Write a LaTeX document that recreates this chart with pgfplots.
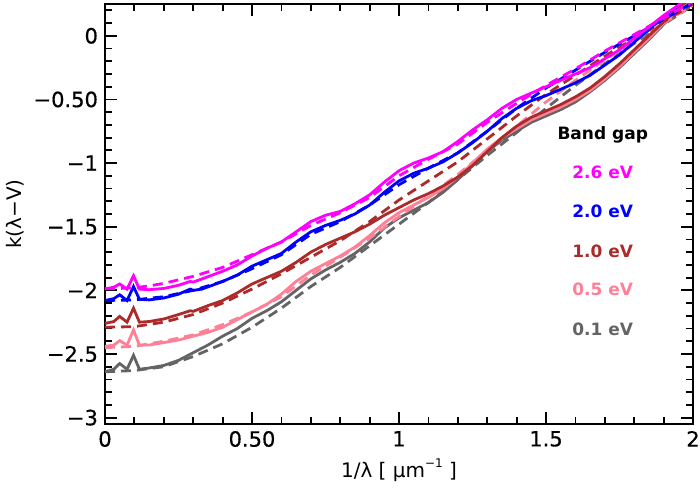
\documentclass[border=0pt]{standalone}
\usepackage{fontspec}
\setmainfont{DejaVu Sans}
\newfontfamily\thickfont{DejaVu Sans}[FakeBold=0.5]
\usepackage{pgfplots}
\pgfplotsset{compat=1.18}
\definecolor{cmag}{RGB}{255,0,255}
\definecolor{cblu}{RGB}{0,0,255}
\definecolor{cbrn}{RGB}{172,42,42}
\definecolor{cpnk}{RGB}{255,128,150}
\definecolor{cgry}{RGB}{100,100,100}
\begin{document}
\begin{tikzpicture}
\begin{axis}[
  name=ax,
  scale only axis, width=294pt, height=210pt,
  xmin=0, xmax=2, ymin=-3.05, ymax=0.25,
  axis line style={line width=1.1pt},
  tick align=inside,
  xtick={0,0.5,1,1.5,2}, xticklabels={0,0.50,1,1.5,2},
  ytick={0,-0.5,-1,-1.5,-2,-2.5,-3},
  yticklabels={0,−0.50,−1,−1.5,−2,−2.5,−3},
  minor xtick={0.1,0.2,0.3,0.4,0.6,0.7,0.8,0.9,1.1,1.2,1.3,1.4,1.6,1.7,1.8,1.9},
  minor ytick={0.2,0.1,-0.1,-0.2,-0.3,-0.4,-0.6,-0.7,-0.8,-0.9,-1.1,-1.2,-1.3,-1.4,-1.6,-1.7,-1.8,-1.9,-2.1,-2.2,-2.3,-2.4,-2.6,-2.7,-2.8,-2.9},
  major tick length=6pt, minor tick length=3.5pt,
  every tick/.style={black, line width=0.9pt},
  ticklabel style={font=\thickfont\fontsize{10.5}{12}\selectfont},
  xlabel={1/λ [ μm\raisebox{0.9ex}{\fontsize{6}{7}\selectfont −1} ]},
  ylabel={k(λ−V)},
  label style={font=\thickfont\fontsize{10.5}{12}\selectfont},
  every axis x label/.style={at={(axis description cs:0.5,-0.1095)}, anchor=center},
  every axis y label/.style={at={(axis description cs:-0.153,0.5)}, anchor=center, rotate=90},
  clip=true,
]
% gray
\addplot[cgry, line width=1.4pt] coordinates {(0,-2.64)(0.03,-2.62)(0.05,-2.575)(0.075,-2.62)(0.097,-2.51)(0.117,-2.62)(0.15,-2.61)(0.2,-2.59)(0.25,-2.55)(0.3,-2.49)(0.35,-2.43)(0.4,-2.36)(0.45,-2.30)(0.5,-2.22)(0.55,-2.16)(0.6,-2.09)(0.65,-2.00)(0.7,-1.91)(0.75,-1.84)(0.8,-1.78)(0.85,-1.71)(0.9,-1.62)(0.95,-1.51)(1.0,-1.43)(1.05,-1.37)(1.1,-1.31)(1.15,-1.23)(1.2,-1.13)(1.25,-1.02)(1.3,-0.91)(1.35,-0.82)(1.4,-0.75)(1.45,-0.68)(1.5,-0.63)(1.55,-0.58)(1.6,-0.52)(1.65,-0.44)(1.7,-0.35)(1.75,-0.25)(1.8,-0.14)(1.85,-0.03)(1.9,0.09)(1.95,0.20)(2.0,0.30)};
\addplot[cgry, line width=1.4pt, dash pattern=on 5pt off 3pt] coordinates {(0,-2.64)(0.1,-2.63)(0.2,-2.60)(0.3,-2.52)(0.4,-2.42)(0.5,-2.29)(0.6,-2.14)(0.7,-1.97)(0.8,-1.82)(0.9,-1.65)(1.0,-1.48)(1.1,-1.31)(1.2,-1.13)(1.3,-0.94)(1.4,-0.76)(1.5,-0.57)(1.6,-0.39)(1.7,-0.22)(1.8,-0.06)(1.9,0.09)(2.0,0.24)};
% pink
\addplot[cpnk, line width=1.4pt] coordinates {(0,-2.44)(0.03,-2.43)(0.05,-2.395)(0.075,-2.43)(0.097,-2.31)(0.117,-2.43)(0.15,-2.43)(0.2,-2.41)(0.25,-2.39)(0.3,-2.36)(0.35,-2.33)(0.4,-2.29)(0.45,-2.23)(0.5,-2.17)(0.55,-2.11)(0.6,-2.03)(0.65,-1.93)(0.7,-1.85)(0.75,-1.79)(0.8,-1.73)(0.85,-1.66)(0.9,-1.57)(0.95,-1.47)(1.0,-1.39)(1.05,-1.33)(1.1,-1.27)(1.15,-1.20)(1.2,-1.11)(1.25,-1.00)(1.3,-0.89)(1.35,-0.80)(1.4,-0.73)(1.45,-0.66)(1.5,-0.61)(1.55,-0.56)(1.6,-0.50)(1.65,-0.43)(1.7,-0.34)(1.75,-0.24)(1.8,-0.13)(1.85,-0.02)(1.9,0.10)(1.95,0.21)(2.0,0.31)};
\addplot[cpnk, line width=1.4pt, dash pattern=on 5pt off 3pt] coordinates {(0,-2.45)(0.1,-2.44)(0.2,-2.40)(0.3,-2.35)(0.4,-2.27)(0.5,-2.17)(0.6,-2.05)(0.7,-1.88)(0.8,-1.74)(0.9,-1.59)(1.0,-1.42)(1.1,-1.26)(1.2,-1.09)(1.3,-0.90)(1.4,-0.71)(1.5,-0.52)(1.6,-0.35)(1.7,-0.19)(1.8,-0.04)(1.9,0.10)(2.0,0.24)};
% brown
\addplot[cbrn, line width=1.4pt] coordinates {(0,-2.26)(0.03,-2.245)(0.05,-2.205)(0.075,-2.25)(0.097,-2.14)(0.117,-2.25)(0.15,-2.245)(0.2,-2.225)(0.25,-2.19)(0.29,-2.16)(0.3,-2.165)(0.35,-2.12)(0.4,-2.08)(0.45,-2.02)(0.5,-1.95)(0.55,-1.90)(0.6,-1.85)(0.65,-1.78)(0.7,-1.70)(0.75,-1.64)(0.8,-1.59)(0.85,-1.54)(0.9,-1.48)(0.95,-1.41)(1.0,-1.35)(1.05,-1.29)(1.1,-1.24)(1.15,-1.18)(1.2,-1.11)(1.25,-1.02)(1.3,-0.91)(1.35,-0.80)(1.4,-0.71)(1.45,-0.64)(1.5,-0.59)(1.55,-0.54)(1.6,-0.48)(1.65,-0.41)(1.7,-0.32)(1.75,-0.22)(1.8,-0.11)(1.85,0.00)(1.9,0.11)(1.95,0.22)(2.0,0.31)};
\addplot[cbrn, line width=1.4pt, dash pattern=on 5pt off 3pt] coordinates {(0,-2.29)(0.1,-2.285)(0.2,-2.25)(0.3,-2.19)(0.4,-2.10)(0.5,-1.99)(0.6,-1.87)(0.7,-1.74)(0.8,-1.61)(0.9,-1.46)(1.0,-1.29)(1.1,-1.14)(1.2,-0.99)(1.3,-0.81)(1.4,-0.63)(1.5,-0.46)(1.6,-0.31)(1.7,-0.16)(1.8,-0.02)(1.9,0.11)(2.0,0.25)};
% blue
\addplot[cblu, line width=1.4pt] coordinates {(0,-2.08)(0.03,-2.065)(0.05,-2.035)(0.075,-2.08)(0.097,-1.97)(0.117,-2.07)(0.15,-2.075)(0.2,-2.06)(0.25,-2.03)(0.29,-1.99)(0.3,-2.0)(0.33,-1.99)(0.4,-1.93)(0.45,-1.88)(0.5,-1.81)(0.55,-1.76)(0.6,-1.71)(0.65,-1.62)(0.7,-1.54)(0.75,-1.49)(0.8,-1.45)(0.85,-1.40)(0.9,-1.33)(0.95,-1.23)(1.0,-1.14)(1.05,-1.08)(1.1,-1.04)(1.15,-0.99)(1.2,-0.92)(1.25,-0.84)(1.3,-0.75)(1.35,-0.65)(1.4,-0.57)(1.45,-0.51)(1.5,-0.47)(1.55,-0.42)(1.6,-0.37)(1.65,-0.31)(1.7,-0.23)(1.75,-0.15)(1.8,-0.05)(1.85,0.05)(1.9,0.15)(1.95,0.24)(2.0,0.32)};
\addplot[cblu, line width=1.4pt, dash pattern=on 5pt off 3pt] coordinates {(0,-2.08)(0.1,-2.075)(0.2,-2.05)(0.3,-2.00)(0.4,-1.93)(0.5,-1.83)(0.6,-1.72)(0.7,-1.56)(0.8,-1.46)(0.9,-1.33)(1.0,-1.17)(1.1,-1.04)(1.2,-0.92)(1.3,-0.75)(1.4,-0.57)(1.5,-0.41)(1.6,-0.27)(1.7,-0.13)(1.8,0.00)(1.9,0.13)(2.0,0.26)};
% magenta
\addplot[cmag, line width=1.4pt] coordinates {(0,-1.99)(0.03,-1.975)(0.05,-1.95)(0.075,-1.99)(0.097,-1.885)(0.117,-1.99)(0.15,-1.995)(0.2,-1.985)(0.25,-1.96)(0.29,-1.93)(0.3,-1.935)(0.33,-1.91)(0.4,-1.85)(0.45,-1.80)(0.5,-1.73)(0.55,-1.67)(0.6,-1.62)(0.65,-1.54)(0.7,-1.46)(0.75,-1.41)(0.8,-1.38)(0.85,-1.32)(0.9,-1.25)(0.95,-1.15)(1.0,-1.06)(1.05,-1.00)(1.1,-0.96)(1.15,-0.91)(1.2,-0.83)(1.25,-0.74)(1.3,-0.66)(1.35,-0.57)(1.4,-0.50)(1.45,-0.45)(1.5,-0.40)(1.55,-0.35)(1.6,-0.30)(1.65,-0.25)(1.7,-0.18)(1.75,-0.11)(1.8,-0.02)(1.85,0.07)(1.9,0.16)(1.95,0.24)(2.0,0.32)};
\addplot[cmag, line width=1.4pt, dash pattern=on 5pt off 3pt] coordinates {(0,-1.985)(0.05,-1.985)(0.1,-1.98)(0.15,-1.965)(0.2,-1.945)(0.3,-1.89)(0.4,-1.82)(0.5,-1.72)(0.6,-1.62)(0.7,-1.49)(0.8,-1.39)(0.9,-1.27)(1.0,-1.10)(1.1,-0.97)(1.2,-0.85)(1.3,-0.68)(1.4,-0.53)(1.5,-0.39)(1.6,-0.26)(1.7,-0.12)(1.8,0.01)(1.9,0.14)(2.0,0.27)};
% legend text
\node[font=\fontsize{8.5}{10}\selectfont\bfseries, text=black] at (axis cs:1.693,-0.782) {Band gap};
\node[font=\fontsize{8.5}{10}\selectfont\bfseries, text=cmag] at (axis cs:1.693,-1.076) {2.6 eV};
\node[font=\fontsize{8.5}{10}\selectfont\bfseries, text=cblu] at (axis cs:1.693,-1.378) {2.0 eV};
\node[font=\fontsize{8.5}{10}\selectfont\bfseries, text=cbrn] at (axis cs:1.693,-1.693) {1.0 eV};
\node[font=\fontsize{8.5}{10}\selectfont\bfseries, text=cpnk] at (axis cs:1.693,-1.994) {0.5 eV};
\node[font=\fontsize{8.5}{10}\selectfont\bfseries, text=cgry] at (axis cs:1.693,-2.304) {0.1 eV};
\end{axis}
\pgfresetboundingbox
\path[use as bounding box] ([shift={(-52.5pt,-38pt)}]ax.south west) rectangle ([shift={(3.5pt,2pt)}]ax.north east);
\end{tikzpicture}
\end{document}
